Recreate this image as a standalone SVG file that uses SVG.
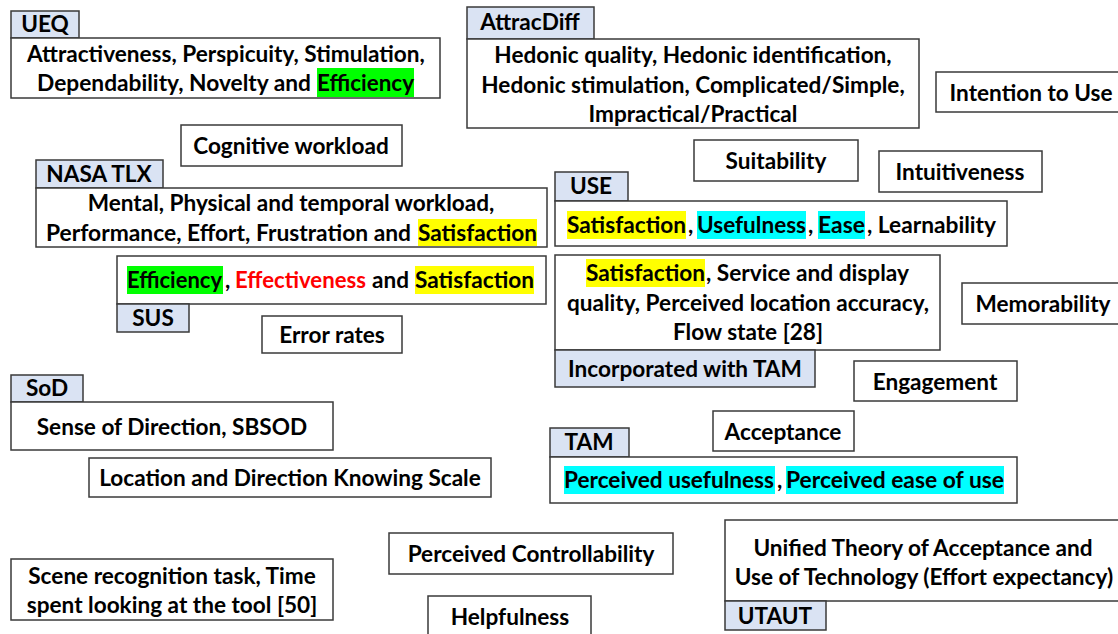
<svg xmlns="http://www.w3.org/2000/svg" width="1118" height="634" viewBox="0 0 1118 634">
<style>
.box{fill:#ffffff;stroke:#3a3a3a;stroke-width:1.5}
.lab{fill:#dae3f3;stroke:#3a3a3a;stroke-width:1.5}
text{font-family:Lato,"Liberation Sans",sans-serif;font-weight:bold;font-size:22.6px;fill:#000}
.c{text-anchor:middle}
.g{fill:#00ff00}
.y{fill:#ffff00}
.cy{fill:#00ffff}
.red{fill:#ff0000}
</style>
<rect width="1118" height="634" fill="#ffffff"/>
<g id="connectors"></g>

<g id="ueq">
<rect class="lab" x="11" y="11" width="68" height="27"/>
<text class="c" x="45" y="32">UEQ</text>
<rect class="box" x="11" y="38" width="429" height="60"/>
<rect class="g" x="317" y="68" width="97" height="29"/>
<text class="c" x="226" y="62">Attractiveness, Perspicuity, Stimulation,</text>
<text x="37" y="91" textLength="274" lengthAdjust="spacingAndGlyphs">Dependability, Novelty and</text>
<text x="317" y="91" textLength="97" lengthAdjust="spacingAndGlyphs">Efficiency</text>
</g>

<g id="attracdiff">
<rect class="lab" x="467" y="7" width="127" height="32"/>
<text class="c" x="530" y="30">AttracDiff</text>
<rect class="box" x="467" y="39" width="452" height="89"/>
<text class="c" x="693" y="63">Hedonic quality, Hedonic identification,</text>
<text class="c" x="693" y="93">Hedonic stimulation, Complicated/Simple,</text>
<text class="c" x="693" y="122">Impractical/Practical</text>
</g>

<g id="intention">
<rect class="box" x="936" y="72" width="190" height="40"/>
<text class="c" x="1031" y="101">Intention to Use</text>
</g>

<g id="cognitive">
<rect class="box" x="181" y="125" width="221" height="41"/>
<text class="c" x="291" y="154">Cognitive workload</text>
</g>

<g id="suitability">
<rect class="box" x="694" y="140" width="164" height="41"/>
<text class="c" x="776" y="169">Suitability</text>
</g>

<g id="intuitiveness">
<rect class="box" x="879" y="151" width="163" height="41"/>
<text class="c" x="960" y="180">Intuitiveness</text>
</g>

<g id="nasatlx">
<rect class="lab" x="36" y="160" width="127" height="28"/>
<text class="c" x="99" y="182">NASA TLX</text>
<rect class="box" x="36" y="188" width="511" height="59"/>
<rect class="y" x="418" y="219" width="119" height="27"/>
<text class="c" x="291" y="211">Mental, Physical and temporal workload,</text>
<text x="46" y="241" textLength="365" lengthAdjust="spacingAndGlyphs">Performance, Effort, Frustration and</text>
<text x="418" y="241" textLength="119" lengthAdjust="spacingAndGlyphs">Satisfaction</text>
</g>

<g id="use">
<rect class="lab" x="555" y="172" width="73" height="29"/>
<text class="c" x="591" y="194">USE</text>
<rect class="box" x="555" y="201" width="452" height="45"/>
<rect class="y" x="567" y="211" width="119" height="28"/>
<rect class="cy" x="697" y="211" width="109" height="28"/>
<rect class="cy" x="818" y="211" width="47" height="28"/>
<text x="567" y="233" textLength="119" lengthAdjust="spacingAndGlyphs">Satisfaction</text>
<text x="688" y="233">,</text>
<text x="697" y="233" textLength="109" lengthAdjust="spacingAndGlyphs">Usefulness</text>
<text x="808" y="233">,</text>
<text x="818" y="233" textLength="47" lengthAdjust="spacingAndGlyphs">Ease</text>
<text x="867" y="233" textLength="129" lengthAdjust="spacingAndGlyphs">, Learnability</text>
</g>

<g id="sus">
<rect class="box" x="117" y="256" width="429" height="48"/>
<rect class="g" x="127" y="266" width="96" height="28"/>
<rect class="y" x="415" y="266" width="119" height="28"/>
<text x="127" y="288" textLength="95" lengthAdjust="spacingAndGlyphs">Efficiency</text>
<text x="225" y="288">,</text>
<text class="red" x="235" y="288" textLength="131" lengthAdjust="spacingAndGlyphs">Effectiveness</text>
<text x="372" y="288" textLength="37" lengthAdjust="spacingAndGlyphs">and</text>
<text x="415" y="288" textLength="119" lengthAdjust="spacingAndGlyphs">Satisfaction</text>
<rect class="lab" x="117" y="304" width="72" height="28"/>
<text class="c" x="153" y="326">SUS</text>
</g>

<g id="errorrates">
<rect class="box" x="262" y="316" width="140" height="37"/>
<text class="c" x="332" y="343">Error rates</text>
</g>

<g id="use-tam">
<rect class="box" x="555" y="255" width="385" height="95"/>
<rect class="y" x="586" y="259" width="119" height="28"/>
<text x="586" y="281" textLength="119" lengthAdjust="spacingAndGlyphs">Satisfaction</text>
<text x="706" y="281" textLength="203" lengthAdjust="spacingAndGlyphs">, Service and display</text>
<text class="c" x="748" y="311">quality, Perceived location accuracy,</text>
<text class="c" x="748" y="340">Flow state [28]</text>
<rect class="lab" x="555" y="350" width="260" height="37"/>
<text class="c" x="685" y="377">Incorporated with TAM</text>
</g>

<g id="memorability">
<rect class="box" x="962" y="283" width="166" height="41"/>
<text class="c" x="1043" y="312">Memorability</text>
</g>

<g id="engagement">
<rect class="box" x="854" y="361" width="163" height="40"/>
<text class="c" x="935" y="390">Engagement</text>
</g>

<g id="sod">
<rect class="lab" x="11" y="375" width="72" height="27"/>
<text class="c" x="47" y="396">SoD</text>
<rect class="box" x="11" y="402" width="322" height="48"/>
<text class="c" x="172" y="435">Sense of Direction, SBSOD</text>
</g>

<g id="acceptance">
<rect class="box" x="713" y="411" width="141" height="40"/>
<text class="c" x="783" y="440">Acceptance</text>
</g>

<g id="tam">
<rect class="lab" x="550" y="428" width="79" height="29"/>
<text class="c" x="589" y="450">TAM</text>
<rect class="box" x="550" y="457" width="467" height="46"/>
<rect class="cy" x="564" y="466" width="211" height="28"/>
<rect class="cy" x="786" y="466" width="218" height="28"/>
<text x="564" y="488" textLength="210" lengthAdjust="spacingAndGlyphs">Perceived usefulness</text>
<text x="777" y="488">,</text>
<text x="786" y="488" textLength="218" lengthAdjust="spacingAndGlyphs">Perceived ease of use</text>
</g>

<g id="ldks">
<rect class="box" x="89" y="458" width="402" height="39"/>
<text class="c" x="290" y="486">Location and Direction Knowing Scale</text>
</g>

<g id="utaut">
<rect class="box" x="725" y="520" width="400" height="81"/>
<text class="c" x="923" y="556">Unified Theory of Acceptance and</text>
<text class="c" x="924" y="585">Use of Technology (Effort expectancy)</text>
<rect class="lab" x="725" y="601" width="101" height="29"/>
<text class="c" x="775" y="624">UTAUT</text>
</g>

<g id="controllability">
<rect class="box" x="389" y="533" width="284" height="41"/>
<text class="c" x="531" y="562">Perceived Controllability</text>
</g>

<g id="scene">
<rect class="box" x="11" y="559" width="322" height="61"/>
<text class="c" x="172" y="584">Scene recognition task, Time</text>
<text class="c" x="172" y="613">spent looking at the tool [50]</text>
</g>

<g id="helpfulness">
<rect class="box" x="428" y="596" width="163" height="50"/>
<text class="c" x="510" y="625">Helpfulness</text>
</g>
</svg>
